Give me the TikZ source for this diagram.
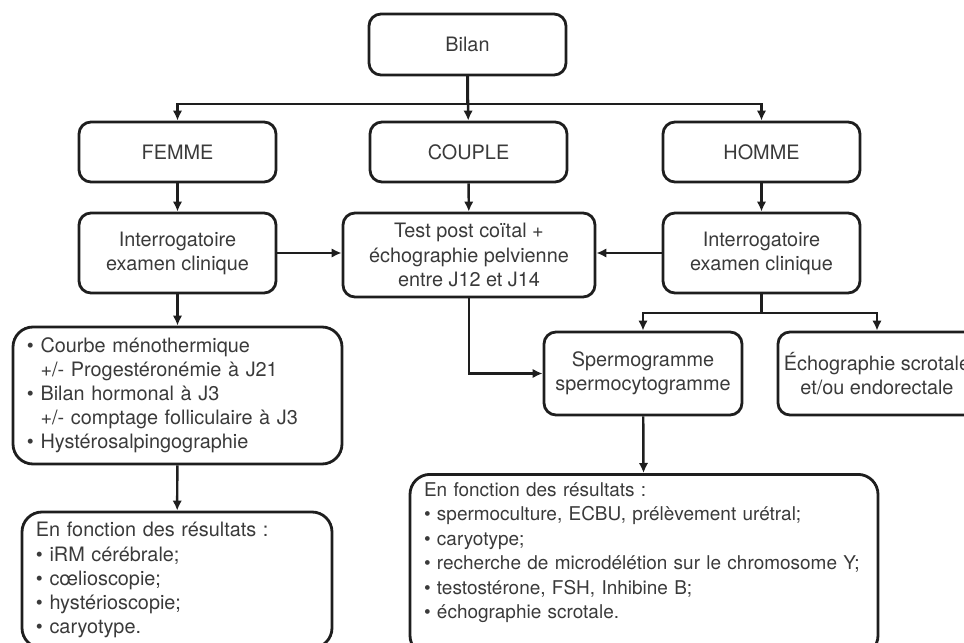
\documentclass[tikz,border=0pt]{standalone}
\usepackage{fontspec}
\setmainfont{TeX Gyre Heros}
\usepackage{xcolor}
\usetikzlibrary{arrows.meta,calc,positioning}
\definecolor{boxline}{HTML}{1E1E1E}
\definecolor{boxtext}{HTML}{3A3A3A}
\tikzset{
  stage/.style={draw=boxline,line width=1.6pt,rounded corners=0.24cm,align=center,
    text=boxtext,font=\fontsize{11.3}{13.7}\selectfont,minimum width=3.94cm,minimum height=1.2cm,inner sep=2pt},
  listbox/.style={draw=boxline,line width=1.6pt,rounded corners=0.4cm,align=left,
    text=boxtext,font=\fontsize{11.3}{13.7}\selectfont,inner xsep=0.28cm},
  link/.style={boxline,line width=1.4pt,-{Latex[length=2mm,width=1.9mm]}},
  branch/.style={boxline,line width=1.4pt}
}
\newcommand{\sub}{\phantom{\textbullet}\ }
\begin{document}
\begin{tikzpicture}
\useasboundingbox (0,0) rectangle (19.28,12.84);
\node[stage,minimum height=1.22cm] (bilan) at (9.35,11.95) {Bilan};
\node[stage] (femme) at (3.55,9.80) {FEMME};
\node[stage] (couple) at (9.37,9.80) {COUPLE};
\node[stage] (homme) at (15.23,9.80) {HOMME};
\node[stage,minimum height=1.6cm] (interf) at (3.55,7.78) {Interrogatoire\\examen clinique};
\node[stage,minimum width=5.04cm,minimum height=1.68cm] (test) at (9.38,7.74) {Test post coïtal +\\échographie pelvienne\\entre J12 et J14};
\node[stage,minimum height=1.6cm] (interh) at (15.23,7.78) {Interrogatoire\\examen clinique};
\node[stage,minimum width=3.96cm,minimum height=1.66cm] (spermo) at (12.86,5.37) {Spermogramme\\spermocytogramme};
\node[stage,minimum width=3.96cm,minimum height=1.66cm] (echo) at (17.54,5.37) {Échographie scrotale\\et/ou endorectale};
\node[listbox,text width=6.02cm,minimum height=2.74cm] (bilanf) at (3.55,4.93) {\textbullet\ Courbe ménothermique\\
\sub+/- Progestéronémie à J21\\
\textbullet\ Bilan hormonal à J3\\
\sub+/- comptage folliculaire à J3\\
\textbullet\ Hystérosalpingographie};
\node[listbox,text width=5.64cm,minimum height=2.72cm] (resf) at (3.54,1.24) {En fonction des résultats :\\
\textbullet\ iRM cérébrale;\\
\textbullet\ cœlioscopie;\\
\textbullet\ hystérioscopie;\\
\textbullet\ caryotype.};
\node[listbox,font=\fontsize{10.8}{13.9}\selectfont,inner ysep=0.16cm,text width=8.8cm,anchor=north] (resh) at (12.88,3.38) {En fonction des résultats :\\
\textbullet\ spermoculture, ECBU, prélèvement urétral;\\
\textbullet\ caryotype;\\
\textbullet\ recherche de microdélétion sur le chromosome Y;\\
\textbullet\ testostérone, FSH, Inhibine B;\\
\textbullet\ échographie scrotale.\par\vspace*{0.5cm}};
\coordinate (split) at (bilan.south |- 0,10.76);
\coordinate (splith) at (interh.south |- 0,6.58);
\draw[branch] (bilan) -- (split);
\draw[link] (split) -| (femme);
\draw[link] (split) -| (homme);
\draw[link] (bilan) -- (couple);
\draw[link] (femme) -- (interf);
\draw[link] (couple) -- (test);
\draw[link] (homme) -- (interh);
\draw[link] (interf.east) -- (interf.east -| test.west);
\draw[link] (interh.west) -- (interh.west -| test.east);
\draw[link] (test.south) |- (spermo.west);
\draw[branch] (interh) -- (splith);
\draw[link] (splith) -| (spermo);
\draw[link] (splith) -| (echo);
\draw[link] (interf) -- (bilanf);
\draw[link] (bilanf) -- (resf);
\draw[link] (spermo) -- (resh);
\end{tikzpicture}
\end{document}
